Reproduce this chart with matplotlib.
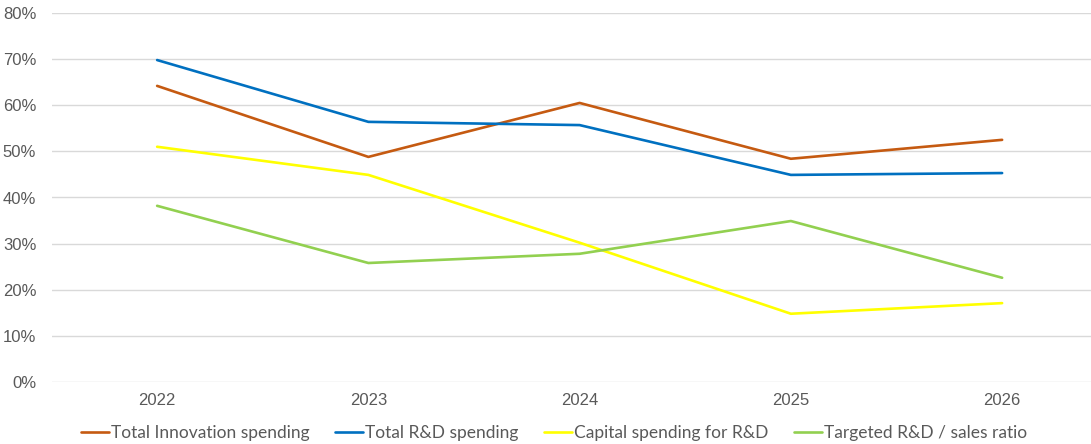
import matplotlib.pyplot as plt
from matplotlib.ticker import PercentFormatter

years = ["2022", "2023", "2024", "2025", "2026"]
innovation = [64.2, 48.8, 60.5, 48.4, 52.5]
rd_total = [69.8, 56.4, 55.7, 44.9, 45.3]
capital_rd = [51.0, 44.9, 30.2, 14.8, 17.1]
rd_sales = [38.2, 25.8, 27.8, 34.9, 22.6]

series = [
    ("Total Innovation spending", innovation, "#C55A11"),
    ("Total R&D spending", rd_total, "#0070C0"),
    ("Capital spending for R&D", capital_rd, "#FFFF00"),
    ("Targeted R&D / sales ratio", rd_sales, "#92D050"),
]

fig = plt.figure(figsize=(10.91, 4.44), dpi=100)
ax = fig.add_axes([51.5 / 1091, 1 - 382 / 444, (1091 - 51.5) / 1091, 369 / 444])

x = list(range(len(years)))
for label, values, color in series:
    ax.plot(x, values, color=color, linewidth=1.9, label=label,
            solid_capstyle="round")

ax.set_ylim(0, 80)
ax.set_yticks(range(0, 81, 10))
ax.yaxis.set_major_formatter(PercentFormatter(decimals=0))
ax.set_xlim(-0.5, (1091 - 51.5) / 211.25 - 0.5)
ax.set_xticks(x)
ax.set_xticklabels(years)

ax.grid(axis="y", color="#D9D9D9", linewidth=1)
ax.set_axisbelow(True)
for spine in ax.spines.values():
    spine.set_visible(False)
ax.tick_params(length=0, labelsize=12, labelcolor="#595959",
               labelfontfamily="Liberation Sans")
ax.tick_params(axis="x", pad=8)
ax.tick_params(axis="y", pad=11)

fig.legend(loc="center", bbox_to_anchor=(554 / 1091, 1 - 433 / 444), ncol=4,
           frameon=False, handlelength=1.6, handletextpad=0.1,
           columnspacing=1.5, prop={"family": "Lato", "size": 12.5},
           labelcolor="#595959")

fig.savefig("out.png", dpi=100)
